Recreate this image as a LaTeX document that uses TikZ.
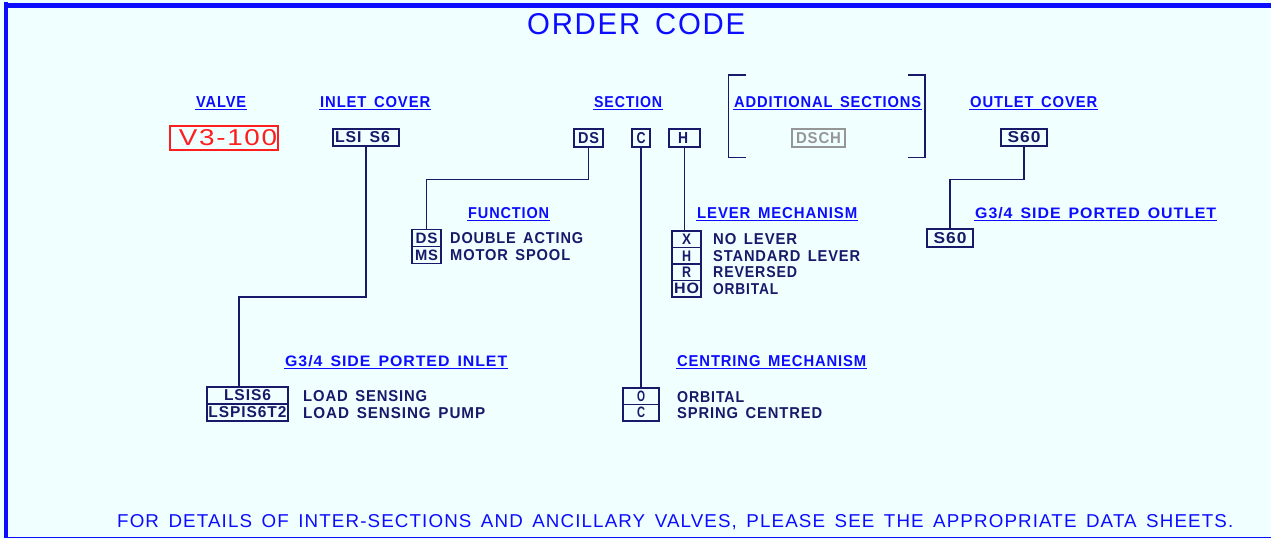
\documentclass[tikz,border=0pt]{standalone}
\usepackage{fontspec}
\setmainfont{Liberation Sans}[LetterSpace=6.0,WordSpace=1.5]
\usepackage{graphicx}
\definecolor{bgc}{RGB}{240,255,255}
\definecolor{tblue}{RGB}{12,12,255}
\definecolor{navy}{RGB}{25,25,105}
\definecolor{vred}{RGB}{255,30,30}
\definecolor{dgray}{RGB}{150,150,150}
\newcommand{\ft}[3]{\resizebox{#1pt}{#2pt}{#3}}
\newcommand{\fb}[3]{\resizebox{#1pt}{#2pt}{\bfseries #3}}
\newcommand{\ulab}[6]{%
  \node[lab,anchor=base west] (#1) at (#2,#3) {\fb{#4}{#5}{#6}};
  \draw[ul] ([xshift=-1pt,yshift=-2.3pt]#1.base west) -- ([xshift=1pt,yshift=-2.3pt]#1.base east);}
\newcommand{\ptxt}[6]{%
  \node[txt,anchor=base west] (#1) at (#2,#3) {\fb{#4}{#5}{#6}};}
\begin{document}
\begin{tikzpicture}[x=1pt,y=-1pt,
  lab/.style={inner sep=0pt,text=tblue},
  ul/.style={draw=tblue,line width=1.3pt},
  txt/.style={inner sep=0pt,text=navy},
  bx/.style={draw=navy,line width=1.3pt,inner sep=0pt,text=navy,rectangle},
  ln/.style={draw=navy,line width=1.3pt}]
\fill[bgc] (0,0) rectangle (1271,539);
\useasboundingbox (0,0) rectangle (1271,539);
% frame
\fill[tblue] (4,3) rectangle (1271,7.5);
\fill[tblue] (4,2) rectangle (7.5,538);
\draw[tblue,line width=1.2pt] (4,537.5) -- (1271,537.5);
% title
\node[lab,anchor=base west] (title) at (527,34) {\ft{218}{21}{ORDER CODE}};
% top labels
\ulab{lvalve}{196}{107}{50}{11}{VALVE}
\ulab{linlet}{320}{107}{110}{11}{INLET COVER}
\ulab{lsect}{594}{107}{68}{11}{SECTION}
\ulab{laddl}{734}{107}{187}{11}{ADDITIONAL SECTIONS}
\ulab{loutl}{970}{107}{127}{11}{OUTLET COVER}
% top boxes
\node[bx,draw=vred,text=vred,minimum width=108,minimum height=24] (valve) at (224,138) {\hspace*{8pt}\ft{98}{16}{V3-100}};
\node[bx,minimum width=66,minimum height=17] (lsi) at (366,137.5) {\fb{55}{11}{LSI S6}\hspace*{7pt}};
\node[bx,minimum width=29,minimum height=18] (ds) at (588.5,138) {\fb{21}{11}{DS}};
\node[bx,minimum width=18,minimum height=18] (c) at (641,138) {\fb{9}{11}{C}};
\node[bx,minimum width=31,minimum height=18] (h) at (684.5,138) {\fb{10}{11}{H}\hspace*{3pt}};
\node[bx,draw=dgray,text=dgray,minimum width=53,minimum height=18] (dsch) at (818.5,138) {\fb{45}{11}{DSCH}};
\node[bx,minimum width=46,minimum height=17] (s60) at (1024,137.5) {\fb{33}{11}{S60}};
% brackets
\draw[ln] (746,75) -- (728.5,75) -- (728.5,157.5) -- (746,157.5);
\draw[ln] (908,75) -- (925,75) -- (925,157.5) -- (908,157.5);
% function
\ulab{lfunc}{468}{218}{81}{11}{FUNCTION}
\node[bx,minimum width=29,minimum height=17] (fDS) at (426.5,238) {\fb{22}{10.5}{DS}};
\node[bx,minimum width=29,minimum height=17] (fMS) at (426.5,255) {\fb{23}{10.5}{MS}};
\ptxt{tda}{450}{243.5}{133}{11}{DOUBLE ACTING}
\ptxt{tms}{450}{260.5}{120}{11}{MOTOR SPOOL}
% lever
\ulab{llever}{697}{218}{160}{11}{LEVER MECHANISM}
\node[bx,minimum width=29,minimum height=16.5] (lvX) at (686.5,239.25) {\fb{9}{10.5}{X}};
\node[bx,minimum width=29,minimum height=16.5] (lvH) at (686.5,255.75) {\fb{9}{10.5}{H}};
\node[bx,minimum width=29,minimum height=16.5] (lvR) at (686.5,272.25) {\fb{9}{10.5}{R}};
\node[bx,minimum width=29,minimum height=16.5] (lvHO) at (686.5,288.75) {\fb{25}{10.5}{HO}};
\ptxt{tnl}{713}{244.75}{84}{11}{NO LEVER}
\ptxt{tsl}{713}{261.25}{147}{11}{STANDARD LEVER}
\ptxt{trv}{713}{277.75}{84}{11}{REVERSED}
\ptxt{tob}{713}{294.25}{65}{11}{ORBITAL}
% outlet
\ulab{lgout}{975}{218}{241}{11}{G3/4 SIDE PORTED OUTLET}
\node[bx,minimum width=46,minimum height=18] (s60b) at (950,238) {\fb{33}{11}{S60}};
% inlet
\ulab{lgin}{285}{366}{222}{11}{G3/4 SIDE PORTED INLET}
\node[bx,minimum width=81,minimum height=17] (lsisA) at (247.5,395.5) {\fb{47}{11}{LSIS6}};
\node[bx,minimum width=81,minimum height=17] (lsisB) at (247.5,412.5) {\fb{78}{11}{LSPIS6T2}};
\ptxt{tls}{303}{401}{124}{11}{LOAD SENSING}
\ptxt{tlsp}{303}{418}{182}{11}{LOAD SENSING PUMP}
% centring
\ulab{lcent}{677}{366}{189}{11}{CENTRING MECHANISM}
\node[bx,minimum width=36,minimum height=16.5] (cO) at (641,396.25) {\fb{8}{10.5}{O}};
\node[bx,minimum width=36,minimum height=16.5] (cC) at (641,412.75) {\fb{8}{10.5}{C}};
\ptxt{tco}{677}{402}{67}{11}{ORBITAL}
\ptxt{tsc}{677}{418.5}{145}{11}{SPRING CENTRED}
% connectors
\coordinate (j1) at (239,297);
\coordinate (j2) at (0,179.5);
\draw[ln] (lsi.south) |- (j1) -- (j1 |- lsisA.north);
\draw[ln] (ds.south) -- (ds.south |- j2) -| (fDS.north);
\draw[ln] (c.south) -- (c.south |- cO.north);
\draw[ln] (h.south) -- (h.south |- lvX.north);
\draw[ln] (s60.south) -- (s60.south |- j2) -| (s60b.north);
% footer
\node[lab,anchor=base west] (foot) at (117,527) {\ft{1116}{13}{FOR DETAILS OF INTER-SECTIONS AND ANCILLARY VALVES, PLEASE SEE THE APPROPRIATE DATA SHEETS.}};
\end{tikzpicture}
\end{document}
